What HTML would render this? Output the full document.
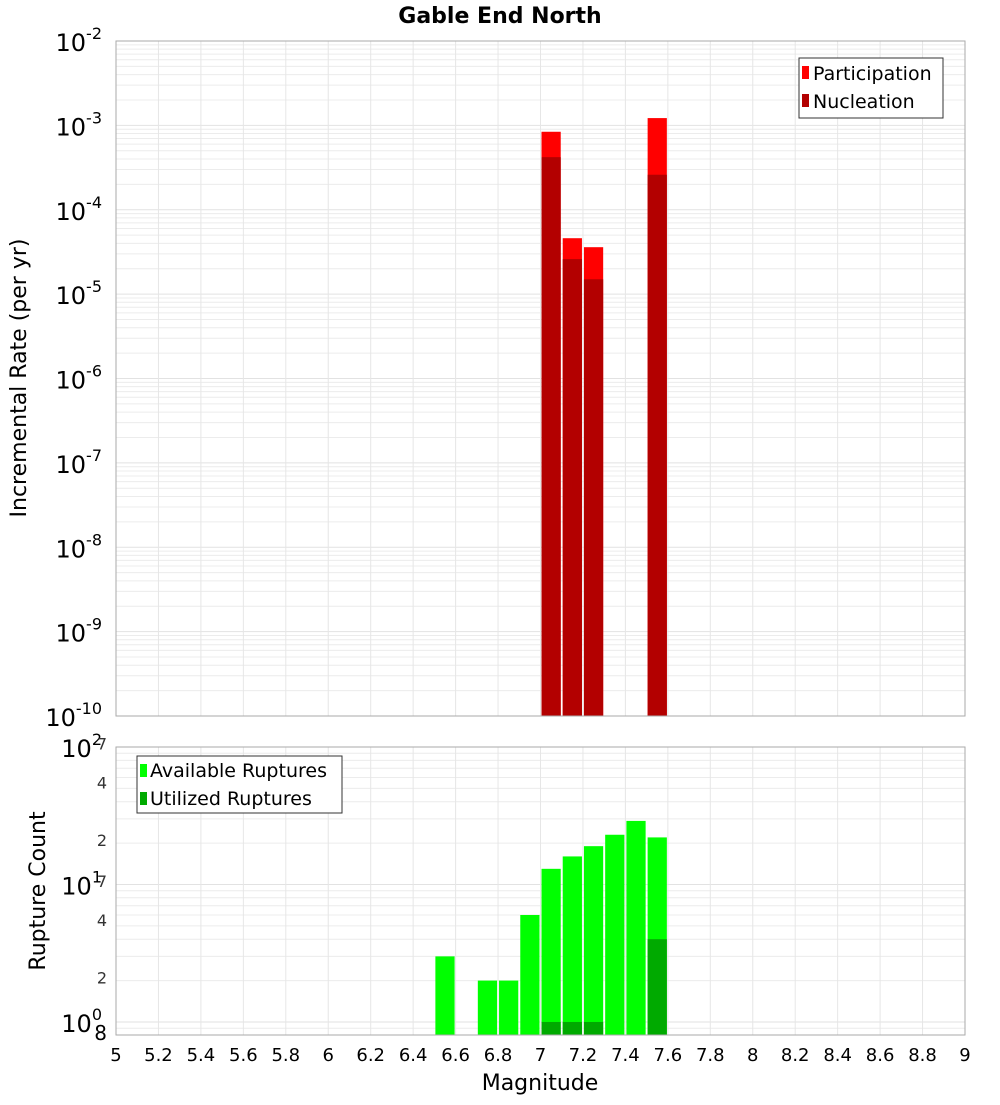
<!DOCTYPE html>
<html><head><meta charset="utf-8"><style>
body{margin:0;background:#fff;}
svg text{font-family:"DejaVu Sans","Liberation Sans",sans-serif;}
</style></head><body>
<svg id="chart" width="1000" height="1100" xmlns="http://www.w3.org/2000/svg">
<text x="500" y="23" text-anchor="middle" font-size="22" font-weight="bold">Gable End North</text>
<g id="topPlot"></g>
<g id="botPlot"></g>
<text transform="translate(26,378) rotate(-90)" text-anchor="middle" font-size="22">Incremental Rate (per yr)</text>
<text transform="translate(45,891) rotate(-90)" text-anchor="middle" font-size="22">Rupture Count</text>
<text x="540" y="1090" text-anchor="middle" font-size="22">Magnitude</text>
<g id="legends">
<g>
<rect x="799" y="58" width="144" height="60" fill="#fff" stroke="#333"/>
<rect x="802" y="66" width="7" height="13" fill="#ff0000"/>
<text x="813" y="80" font-size="19">Participation</text>
<rect x="802" y="94" width="7" height="13" fill="#b30000"/>
<text x="813" y="108" font-size="19">Nucleation</text>
</g>
<g>
<rect x="137" y="756" width="205" height="57" fill="#fff" stroke="#333"/>
<rect x="140" y="764" width="7" height="13" fill="#00ff00"/>
<text x="150" y="777" font-size="19">Available Ruptures</text>
<rect x="140" y="792" width="7" height="13" fill="#00aa00"/>
<text x="150" y="805" font-size="19">Utilized Ruptures</text>
</g>
</g>
</svg>
<script>
const rateMags=[7.05,7.15,7.25,7.55];
const participation=[8.4e-4,4.6e-5,3.6e-5,1.22e-3];
const nucleation=[4.2e-4,2.6e-5,1.5e-5,2.6e-4];
const countMags=[6.55,6.75,6.85,6.95,7.05,7.15,7.25,7.35,7.45,7.55];
const available=[3,2,2,6,13,16,19,23,29,22];
const utilizedMags=[7.05,7.15,7.25,7.55];
const utilized=[1,1,1,4];
const xTicks=[5,5.2,5.4,5.6,5.8,6,6.2,6.4,6.6,6.8,7,7.2,7.4,7.6,7.8,8,8.2,8.4,8.6,8.8,9];
const rateExps=[-10,-9,-8,-7,-6,-5,-4,-3,-2];
const countMinorLabels=[2,4,7];

const NS='http://www.w3.org/2000/svg';
const L=116,R=965;
const T1=41,B1=716,T2=747,B2=1035;
const xs=m=>L+(m-5)/4*(R-L);
const yRate=v=>B1-(Math.log10(v)+10)/8*(B1-T1);
const cMin=0.804,cMax=100;
const yCount=v=>B2-(Math.log10(v)-Math.log10(cMin))/(Math.log10(cMax)-Math.log10(cMin))*(B2-T2);
function el(p,tag,a){const e=document.createElementNS(NS,tag);for(const k in a)e.setAttribute(k,a[k]);p.appendChild(e);return e;}
const gTop=document.getElementById('topPlot'),gBot=document.getElementById('botPlot');
function fmt(t){return (Math.round(t*10)/10).toString();}

// top plot
el(gTop,'rect',{x:L,y:T1,width:R-L,height:B1-T1,fill:'#fff'});
for(let e=-10;e<-2;e++)for(let k=2;k<=9;k++){const yy=yRate(k*Math.pow(10,e));el(gTop,'line',{x1:L,x2:R,y1:yy,y2:yy,stroke:'#ececec','stroke-width':1});}
rateExps.forEach(e=>{const yy=yRate(Math.pow(10,e));el(gTop,'line',{x1:L,x2:R,y1:yy,y2:yy,stroke:'#e2e2e2'});
const t=el(gTop,'text',{x:102,y:yy+10,'text-anchor':'end','font-size':24});


t.textContent='10';const s=el(t,'tspan',{dy:-12,'font-size':16});s.textContent=String(e);});
xTicks.forEach(m=>{el(gTop,'line',{x1:xs(m),x2:xs(m),y1:T1,y2:B1,stroke:'#e6e6e6'});});
rateMags.forEach((m,i)=>{
const r=el(gTop,'rect',{x:xs(m-0.05)+1,y:yRate(participation[i]),width:xs(m+0.05)-xs(m-0.05)-2,height:B1-yRate(participation[i]),fill:'#ff0000'});


const n=el(gTop,'rect',{x:xs(m-0.05)+1,y:yRate(nucleation[i]),width:xs(m+0.05)-xs(m-0.05)-2,height:B1-yRate(nucleation[i]),fill:'#b30000'});


});
el(gTop,'rect',{x:L,y:T1,width:R-L,height:B1-T1,fill:'none',stroke:'#aaa'});

// bottom plot
for(let e=-1;e<2;e++)for(let k=1;k<=9;k++){const v=k*Math.pow(10,e);if(v<cMin||v>cMax)continue;const yy=yCount(v);el(gBot,'line',{x1:L,x2:R,y1:yy,y2:yy,stroke:k==1?'#e2e2e2':'#ececec'});}
[1,10,100].forEach((v,i)=>{const yy=yCount(v);const t=el(gBot,'text',{x:102,y:yy+10,'text-anchor':'end','font-size':24});


t.textContent='10';const s=el(t,'tspan',{dy:-12,'font-size':16});s.textContent=String(i);});
[1,10].forEach(d=>countMinorLabels.forEach(k=>{const yy=yCount(k*d);const t=el(gBot,'text',{x:107,y:yy-13+(k==2?16:k==4?0:-6),'text-anchor':'end','font-size':16,fill:'#333'});


t.textContent=String(k);}));
{const t=el(gBot,'text',{x:107,y:1040,'text-anchor':'end','font-size':20});


t.textContent='8';}
xTicks.forEach(m=>{el(gBot,'line',{x1:xs(m),x2:xs(m),y1:T2,y2:B2,stroke:'#e6e6e6'});
const t=el(gBot,'text',{x:xs(m),y:1061,'text-anchor':'middle','font-size':18});


t.textContent=fmt(m);});
countMags.forEach((m,i)=>{const r=el(gBot,'rect',{x:xs(m-0.05)+1,y:yCount(available[i]),width:xs(m+0.05)-xs(m-0.05)-2,height:B2-yCount(available[i]),fill:'#00ff00'});

});
utilizedMags.forEach((m,i)=>{const r=el(gBot,'rect',{x:xs(m-0.05)+1,y:yCount(utilized[i]),width:xs(m+0.05)-xs(m-0.05)-2,height:B2-yCount(utilized[i]),fill:'#00aa00'});

});
el(gBot,'rect',{x:L,y:T2,width:R-L,height:B2-T2,fill:'none',stroke:'#aaa'});
// keep legends on top
document.getElementById('chart').appendChild(document.getElementById('legends'));
</script>
</body></html>
